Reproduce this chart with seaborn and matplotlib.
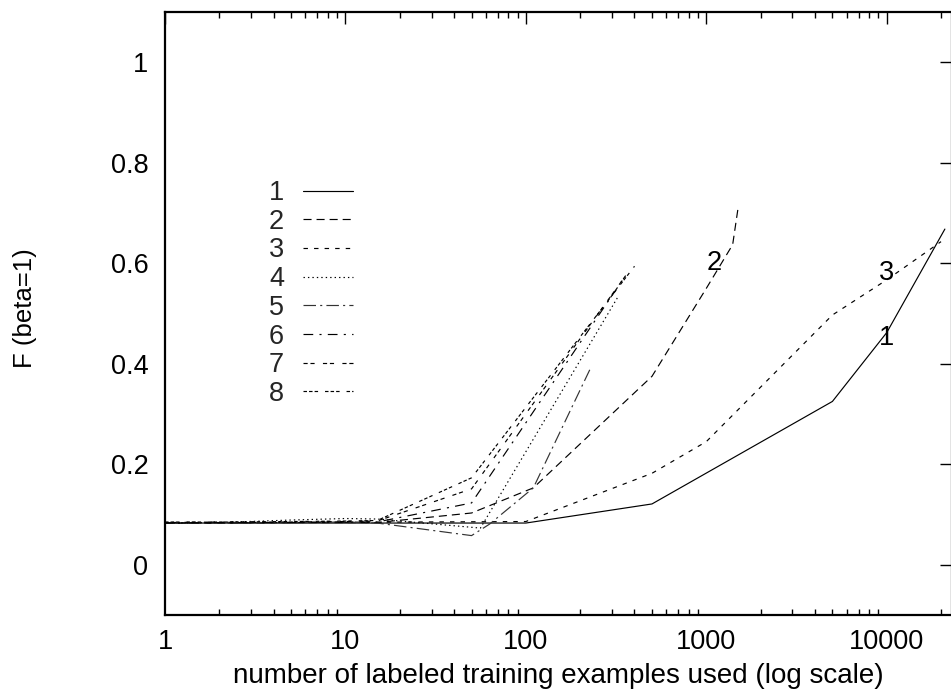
import numpy as np
import pandas as pd
import matplotlib
matplotlib.use("Agg")
import matplotlib.pyplot as plt
import seaborn as sns

# ---- data ----
x1 = [1, 100, 500, 5000, 10000, 21000]
y1 = [0.083, 0.083, 0.121, 0.325, 0.462, 0.668]

x2 = [1, 2, 5, 10, 15, 50, 110, 500, 1000, 1400, 1500]
y2 = [0.083, 0.083, 0.084, 0.084, 0.084, 0.103, 0.153, 0.375, 0.55, 0.637, 0.71]

x3 = [1, 100, 500, 1000, 5000, 10000, 20000]
y3 = [0.083, 0.086, 0.182, 0.245, 0.497, 0.567, 0.643]

x4 = [1, 2, 5, 10, 15, 56, 325]
y4 = [0.083, 0.084, 0.089, 0.092, 0.091, 0.073, 0.534]

x5 = [1, 2, 5, 10, 15, 50, 63, 110, 226]
y5 = [0.083, 0.083, 0.084, 0.085, 0.083, 0.058, 0.081, 0.153, 0.388]

x6 = [1, 2, 5, 10, 15, 50, 350]
y6 = [0.083, 0.084, 0.084, 0.085, 0.085, 0.123, 0.571]

x7 = [1, 2, 5, 10, 15, 50, 360]
y7 = [0.084, 0.085, 0.085, 0.086, 0.087, 0.151, 0.577]

x8 = [1, 2, 5, 10, 15, 50, 400]
y8 = [0.085, 0.085, 0.086, 0.087, 0.088, 0.173, 0.594]

series_names = ["1", "2", "3", "4", "5", "6", "7", "8"]
series_x = [x1, x2, x3, x4, x5, x6, x7, x8]
series_y = [y1, y2, y3, y4, y5, y6, y7, y8]

curve_labels = ["1", "2", "3"]
curve_label_x = [10000, 1110, 10000]
curve_label_y = [0.451, 0.600, 0.580]

x_ticks = [1, 10, 100, 1000, 10000]
x_ticklabels = ["1", "10", "100", "1000", "10000"]
y_ticks = [0, 0.2, 0.4, 0.6, 0.8, 1]
y_ticklabels = ["0", "0.2", "0.4", "0.6", "0.8", "1"]

# ---- build long-form table ----
frames = []
for name, xs, ys in zip(series_names, series_x, series_y):
    frames.append(pd.DataFrame({"n": xs, "F": ys, "curve": name}))
df = pd.concat(frames, ignore_index=True)

# ---- style ----
sns.set_theme(style="white")
plt.rcParams["font.family"] = ["Liberation Sans", "DejaVu Sans"]
plt.rcParams["lines.scale_dashes"] = False
FS = 19.5

W, H = 951, 692
fig = plt.figure(figsize=(W / 100, H / 100), dpi=100)
ax_left, ax_right, ax_top, ax_bottom = 165, 952, 12, 615
ax = fig.add_axes([ax_left / W, 1 - ax_bottom / H,
                   (ax_right - ax_left) / W, (ax_bottom - ax_top) / H])

dash_map = {
    "1": "",
    "2": (5.8, 3.6),
    "3": (3.2, 4.4),
    "4": (1.0, 2.2),
    "5": (9, 3, 1.5, 3),
    "6": (7, 4.5, 1.5, 4.5),
    "7": (3, 2, 3, 6),
    "8": (2.5, 1.5, 2.5, 1.5, 2.5, 5),
}
palette = {k: "black" for k in series_names}
palette["5"] = "#333333"

sns.lineplot(data=df, x="n", y="F", hue="curve", style="curve",
             hue_order=series_names, style_order=series_names,
             palette=palette, dashes=dash_map, estimator=None,
             sort=False, linewidth=0.85, legend=False, ax=ax)

ax.set_xscale("log")
ax.set_xlim(1, 23000)
ax.set_ylim(-0.1, 1.1)

ax.set_xticks(x_ticks)
ax.set_xticklabels(x_ticklabels)
ax.set_yticks(y_ticks)
ax.set_yticklabels(y_ticklabels)
ax.xaxis.set_minor_locator(matplotlib.ticker.LogLocator(base=10, subs=np.arange(2, 10)))
ax.xaxis.set_minor_formatter(matplotlib.ticker.NullFormatter())

ax.tick_params(axis="both", which="major", direction="in", length=8.6, width=1.0,
               top=True, right=True, labelsize=FS, color="black", labelcolor="black")
ax.tick_params(axis="x", which="major", pad=10)
ax.tick_params(axis="y", which="major", pad=12)
ax.tick_params(axis="x", which="minor", direction="in", length=4.3, width=1.0,
               top=True, bottom=True, color="black")
for sp in ax.spines.values():
    sp.set_linewidth(1.6)
    sp.set_color("black")

ax.set_xlabel("number of labeled training examples used (log scale)", fontsize=20,
              labelpad=5.5, color="black")
ax.set_ylabel("")
fig.text(25 / W, 1 - 308 / H, "F (beta=1)", rotation=90, fontsize=18.5,
         ha="center", va="center", color="black")

for t, xv, yv in zip(curve_labels, curve_label_x, curve_label_y):
    ax.text(xv, yv, t, fontsize=FS, ha="center", va="center", color="black")

handles = ax.get_lines()[:len(series_names)]
ax.legend(handles, series_names, loc="upper left",
          bbox_to_anchor=(269 / W, 1 - 180 / H), bbox_transform=fig.transFigure,
          frameon=False, fontsize=FS, markerfirst=False, handlelength=1.85,
          handletextpad=0.7, labelspacing=0.1, borderpad=0, borderaxespad=0)

fig.savefig("out.png", dpi=100)
